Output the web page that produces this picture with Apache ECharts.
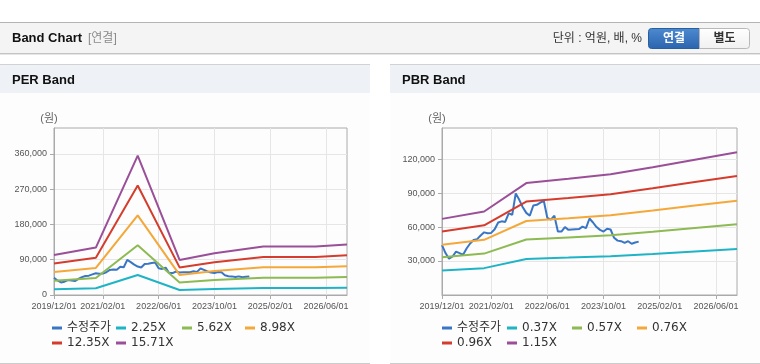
<!DOCTYPE html>
<html><head><meta charset="utf-8">
<script src="https://cdn.jsdelivr.net/npm/echarts@6/dist/echarts.min.js"></script>
<style>html,body{margin:0;padding:0;background:#fff}#c{width:760px;height:364px}</style>
</head><body><div id="c"></div>
<script>
// ---- categories (monthly) ----
const months = [];
for (let y = 2019, m = 12; y < 2026 || (y === 2026 && m <= 12); ) {
  months.push(y + '/' + String(m).padStart(2, '0') + '/01');
  m++; if (m > 12) { m = 1; y++; }
}
const xTickLabels = ['2019/12/01', '2021/02/01', '2022/06/01', '2023/10/01', '2025/02/01', '2026/06/01'];
const perYTicks = [0, 90000, 180000, 270000, 360000];
const pbrYTicks = [30000, 60000, 90000, 120000];

// ---- 수정주가 (monthly, from 2019/12/01) ----
const price = [44000, 37000, 32000, 34000, 38300, 37000, 35500, 41000, 45500, 48500,
  49300, 52500, 55300, 54500, 54800, 58000, 64000, 65000, 64500, 72000,
  70800, 89700, 84000, 77500, 72500, 70000, 79000, 79600, 81500, 83000,
  68000, 66500, 70000, 56000, 56000, 60000, 57500, 57800, 58000, 58200,
  60400, 59000, 67500, 64000, 60000, 57500, 56000, 58500, 57800, 50500,
  48000, 47500, 46000, 47500, 45200, 46300, 47100];

// ---- PER band ----
const perNames = ['2.25X', '5.62X', '8.98X', '12.35X', '15.71X'];
const perDates = ['2019/12/01', '2020/12/01', '2021/12/01', '2022/12/01', '2023/10/01', '2024/12/01', '2026/03/01', '2026/12/01'];
const per225  = [14650, 17330, 50900, 12830, 15270, 17690, 17690, 18420];
const per562  = [36590, 43270, 127120, 32030, 38130, 44170, 44170, 46010];
const per898  = [58460, 69150, 203130, 51190, 60930, 70580, 70580, 73510];
const per1235 = [80400, 95100, 279360, 70400, 83790, 97070, 97070, 101100];
const per1571 = [102270, 120970, 355360, 89550, 106590, 123480, 123480, 128600];

// ---- PBR band ----
const pbrNames = ['0.37X', '0.57X', '0.76X', '0.96X', '1.15X'];
const pbrDates = ['2019/12/01', '2020/12/01', '2021/12/01', '2022/12/01', '2023/12/01', '2024/12/01', '2025/12/01', '2026/12/01'];
const pbr037 = [21620, 23710, 31790, 33010, 34300, 36290, 38420, 40510];
const pbr057 = [33310, 36530, 48970, 50860, 52840, 55910, 59180, 62400];
const pbr076 = [44410, 48710, 65290, 67810, 70450, 74550, 78910, 83200];
const pbr096 = [56090, 61530, 82470, 85650, 88990, 94170, 99680, 105100];
const pbr115 = [67200, 73700, 98800, 102600, 106600, 112800, 119400, 125900];

const colors = ['#3a76c4', '#1fb3c6', '#8dba52', '#f4a83a', '#d43c2d', '#9a4f98'];
const FONT = "'Liberation Sans', 'Noto Sans CJK KR', sans-serif";
const LFONT = "'DejaVu Sans', 'Noto Sans CJK KR', sans-serif";

const pair = (dates, vals) => dates.map((d, i) => [d, vals[i]]);
const showTick = (i, v) => xTickLabels.includes(v);
const fmt = v => v.toLocaleString('en-US');

function xAxisFor(gi) {
  return {
    type: 'category', gridIndex: gi, data: months, boundaryGap: false,
    axisLine: { lineStyle: { color: '#aaaaaa' } },
    axisTick: { interval: showTick, length: 4, lineStyle: { color: '#aaaaaa' } },
    axisLabel: { interval: showTick, color: '#555', fontSize: 9, fontFamily: FONT, margin: 7 },
    splitLine: { show: true, interval: showTick, lineStyle: { color: '#e6e6e6' } }
  };
}
function yAxisFor(gi, max, interval, ticks) {
  return {
    type: 'value', gridIndex: gi, min: 0, max: max, interval: interval,
    name: '(원)', nameLocation: 'end', nameGap: 4,
    nameTextStyle: { color: '#666', fontSize: 11, fontFamily: FONT, align: 'center', padding: [0, 10, 0, 0] },
    axisLine: { show: true, lineStyle: { color: '#aaaaaa' } },
    axisTick: { show: true, length: 4, customValues: ticks, lineStyle: { color: '#aaaaaa' } },
    axisLabel: { customValues: ticks, color: '#555', fontSize: 9, fontFamily: FONT, margin: 7, formatter: fmt },
    splitLine: { show: true, lineStyle: { color: '#e6e6e6' } }
  };
}
function line(name, data, color, gi) {
  return { name, type: 'line', xAxisIndex: gi, yAxisIndex: gi, data, symbol: 'none', showSymbol: false,
    connectNulls: true, lineStyle: { width: 2, color }, itemStyle: { color }, emphasis: { disabled: true } };
}

const series = [
  line('수정주가', price, colors[0], 0),
  line(perNames[0], pair(perDates, per225), colors[1], 0),
  line(perNames[1], pair(perDates, per562), colors[2], 0),
  line(perNames[2], pair(perDates, per898), colors[3], 0),
  line(perNames[3], pair(perDates, per1235), colors[4], 0),
  line(perNames[4], pair(perDates, per1571), colors[5], 0),
  line('수정주가', price, colors[0], 1),
  line(pbrNames[0], pair(pbrDates, pbr037), colors[1], 1),
  line(pbrNames[1], pair(pbrDates, pbr057), colors[2], 1),
  line(pbrNames[2], pair(pbrDates, pbr076), colors[3], 1),
  line(pbrNames[3], pair(pbrDates, pbr096), colors[4], 1),
  line(pbrNames[4], pair(pbrDates, pbr115), colors[5], 1)
];

const perLegendPos = [[52, 322], [116, 322], [182, 322], [245, 322], [52, 337], [116, 337]];
const pbrLegendPos = [[442, 322], [507, 322], [572, 322], [637, 322], [442, 337], [507, 337]];
const legends = [];
['수정주가'].concat(perNames).forEach((n, i) => legends.push({ n, p: perLegendPos[i] }));
['수정주가'].concat(pbrNames).forEach((n, i) => legends.push({ n, p: pbrLegendPos[i] }));
const legendOpts = legends.map(o => ({
  data: [o.n], left: o.p[0], top: o.p[1], padding: 0, icon: 'rect', itemWidth: 10, itemHeight: 3,
  selectedMode: false, textStyle: { color: '#333', fontSize: 12, fontFamily: LFONT }
}));

const T = (text, x, y, o) => Object.assign({ type: 'text', z: 5, style: Object.assign({ text, x, y, verticalAlign: 'middle', align: 'left', fontFamily: FONT, fontSize: 12, fill: '#333' }, o || {}) });
const graphic = [
  // top header bar
  { type: 'rect', z: -1, shape: { x: 0, y: 22, width: 760, height: 31 }, style: { fill: '#f4f4f4' } },
  { type: 'line', z: -1, shape: { x1: 0, y1: 22.5, x2: 760, y2: 22.5 }, style: { stroke: '#b4b4b4', lineWidth: 1 } },
  { type: 'line', z: -1, shape: { x1: 0, y1: 53.5, x2: 760, y2: 53.5 }, style: { stroke: '#c4c4c4', lineWidth: 1 } },
  { type: 'line', z: -1, shape: { x1: 0, y1: 54.5, x2: 760, y2: 54.5 }, style: { stroke: '#e6e6e6', lineWidth: 1 } },
  T('Band Chart', 12, 38.5, { fontWeight: 'bold', fontSize: 13, fill: '#111' }),
  T('[연결]', 88, 38.5, { fill: '#8a8a8a', fontSize: 12 }),
  T('단위 : 억원, 배, %', 642, 38.5, { align: 'right', fill: '#333', fontSize: 12 }),
  { type: 'rect', z: 1, shape: { x: 648.5, y: 28.5, width: 51, height: 20, r: [3, 0, 0, 3] },
    style: { fill: new echarts.graphic.LinearGradient(0, 0, 0, 1, [{ offset: 0, color: '#4d8ad0' }, { offset: 1, color: '#2a64ad' }]), stroke: '#2a5f9f', lineWidth: 1 } },
  { type: 'rect', z: 1, shape: { x: 699.5, y: 28.5, width: 50, height: 20, r: [0, 3, 3, 0] },
    style: { fill: new echarts.graphic.LinearGradient(0, 0, 0, 1, [{ offset: 0, color: '#ffffff' }, { offset: 1, color: '#f0f0f0' }]), stroke: '#b8b8b8', lineWidth: 1 } },
  T('연결', 674, 38.5, { align: 'center', fill: '#fff', fontWeight: 'bold', fontSize: 12 }),
  T('별도', 724.5, 38.5, { align: 'center', fill: '#333', fontWeight: 'bold', fontSize: 12 }),
  // PER panel
  { type: 'rect', z: -1, shape: { x: 0, y: 93, width: 370, height: 270 }, style: { fill: '#fdfdfd' } },
  { type: 'rect', z: -1, shape: { x: 0, y: 64, width: 370, height: 29 }, style: { fill: '#eef2f7' } },
  { type: 'line', z: -1, shape: { x1: 0, y1: 64.5, x2: 370, y2: 64.5 }, style: { stroke: '#d2d2d2', lineWidth: 1 } },
  { type: 'line', z: -1, shape: { x1: 0, y1: 363.5, x2: 370, y2: 363.5 }, style: { stroke: '#cccccc', lineWidth: 1 } },
  T('PER Band', 12, 80.5, { fontWeight: 'bold', fontSize: 13, fill: '#111' }),
  // PBR panel
  { type: 'rect', z: -1, shape: { x: 390, y: 93, width: 370, height: 270 }, style: { fill: '#fdfdfd' } },
  { type: 'rect', z: -1, shape: { x: 390, y: 64, width: 370, height: 29 }, style: { fill: '#eef2f7' } },
  { type: 'line', z: -1, shape: { x1: 390, y1: 64.5, x2: 760, y2: 64.5 }, style: { stroke: '#d2d2d2', lineWidth: 1 } },
  { type: 'line', z: -1, shape: { x1: 390, y1: 363.5, x2: 760, y2: 363.5 }, style: { stroke: '#cccccc', lineWidth: 1 } },
  T('PBR Band', 402, 80.5, { fontWeight: 'bold', fontSize: 13, fill: '#111' })
];

const chart = echarts.init(document.getElementById('c'), null, { renderer: 'canvas' });
chart.setOption({
  animation: false,
  backgroundColor: '#ffffff',
  textStyle: { fontFamily: FONT },
  graphic,
  legend: legendOpts,
  grid: [
    { left: 54, right: 413, top: 128, bottom: 69, show: true, borderColor: '#aaaaaa', borderWidth: 1, backgroundColor: 'transparent' },
    { left: 442, right: 23, top: 128, bottom: 69, show: true, borderColor: '#aaaaaa', borderWidth: 1, backgroundColor: 'transparent' }
  ],
  xAxis: [xAxisFor(0), xAxisFor(1)],
  yAxis: [yAxisFor(0, 426000, 90000, perYTicks), yAxisFor(1, 147400, 30000, pbrYTicks)],
  series
});
</script></body></html>
